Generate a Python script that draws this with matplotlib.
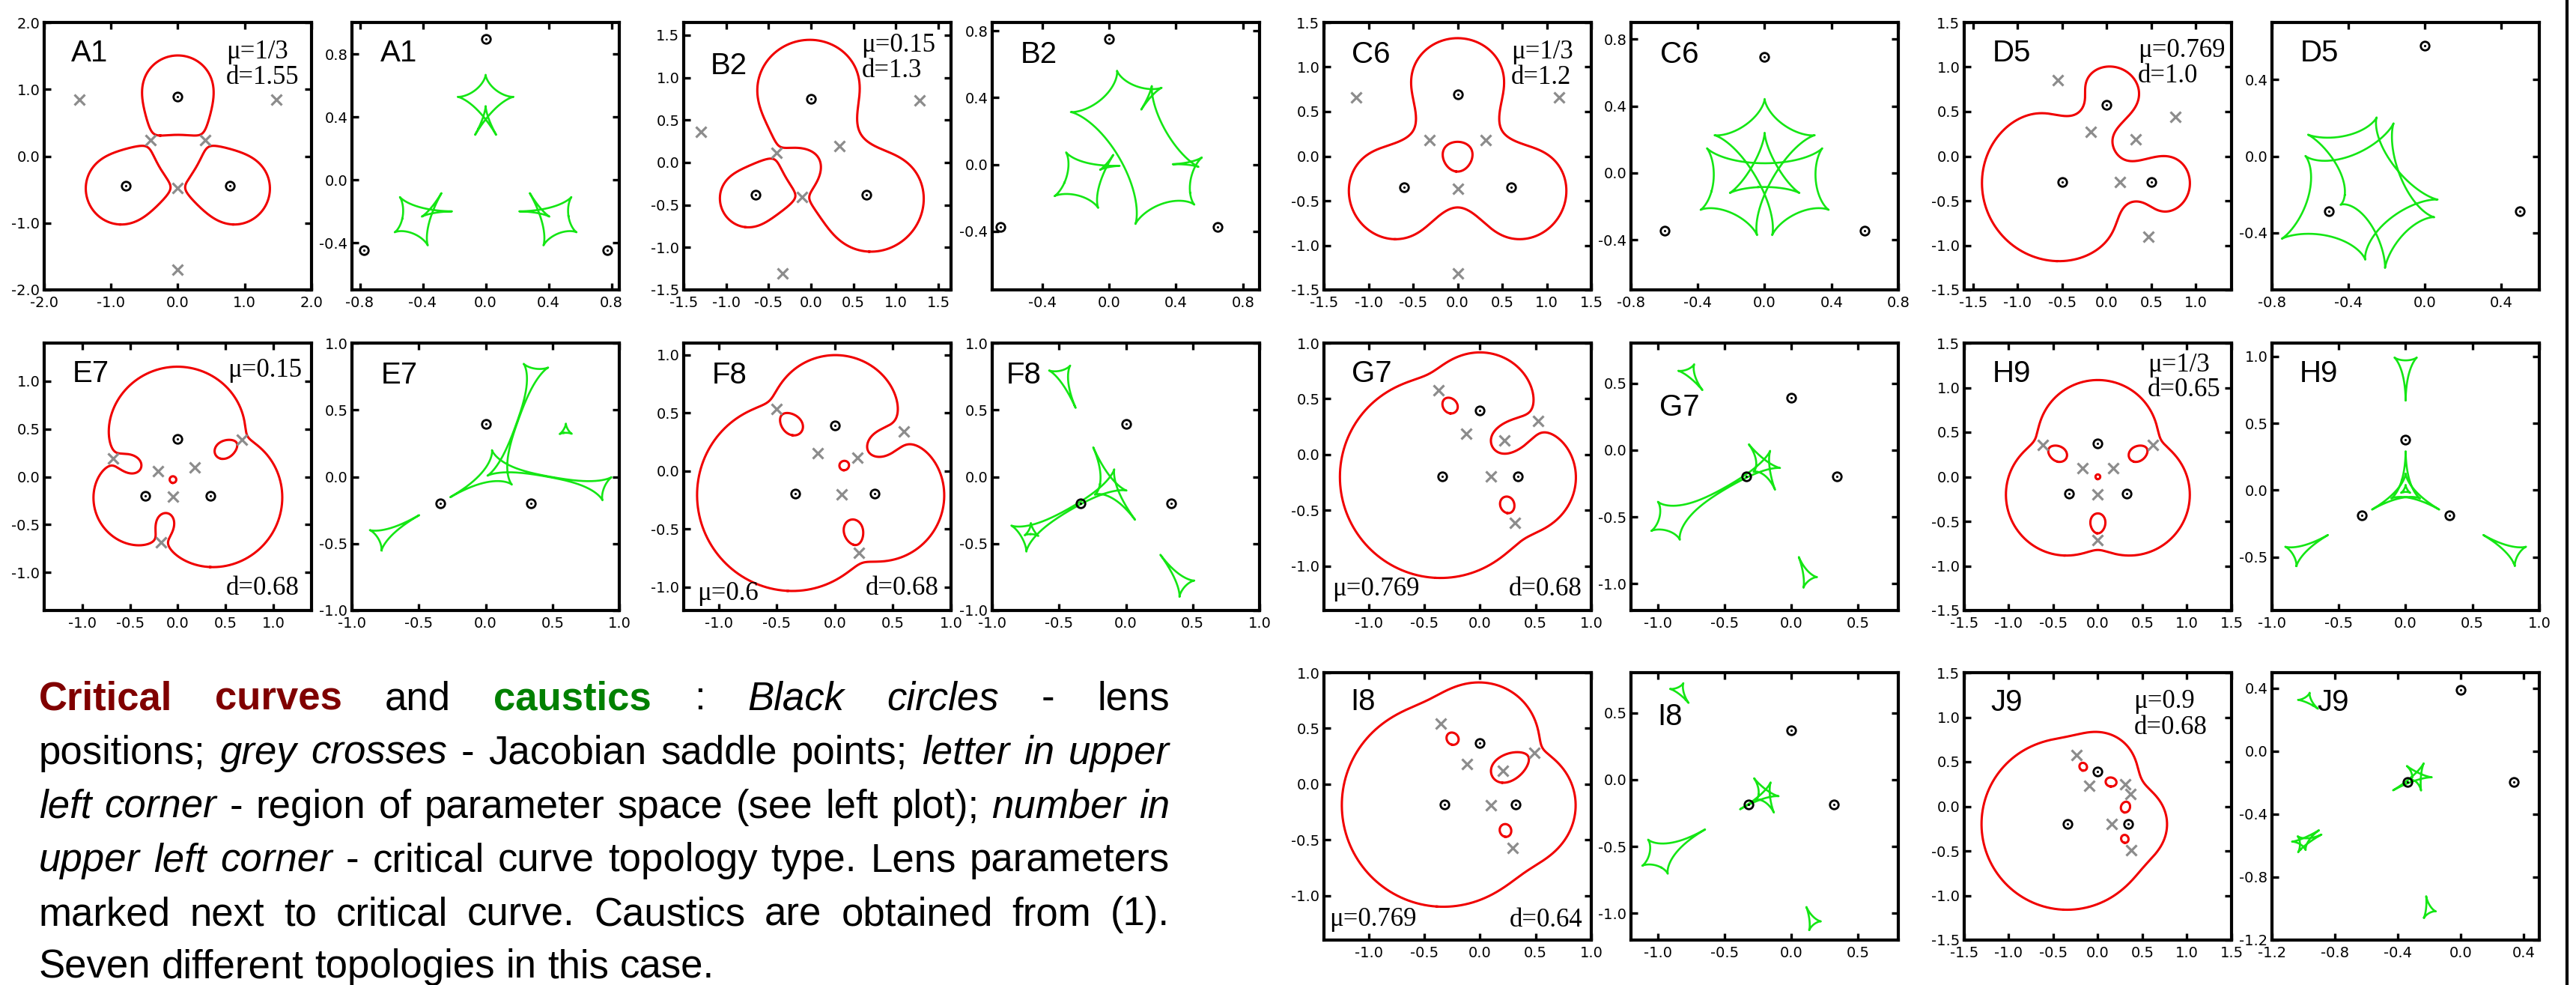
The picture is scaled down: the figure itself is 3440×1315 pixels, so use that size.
import numpy as np
import matplotlib
matplotlib.use("Agg")
import matplotlib.pyplot as plt
from matplotlib.lines import Line2D
import contourpy

# ---------------- data ----------------
panel_labels = ["A1", "B2", "C6", "D5", "E7", "F8", "G7", "H9", "I8", "J9"]
mu_values = [1/3, 0.15, 1/3, 0.769, 0.15, 0.6, 0.769, 1/3, 0.769, 0.9]
mu_labels = ["1/3", "0.15", "1/3", "0.769", "0.15", "0.6", "0.769", "1/3", "0.769", "0.9"]
d_values = [1.55, 1.3, 1.2, 1.0, 0.68, 0.68, 0.68, 0.65, 0.64, 0.68]
d_labels = ["1.55", "1.3", "1.2", "1.0", "0.68", "0.68", "0.68", "0.65", "0.64", "0.68"]

t15 = [-1.5, -1.0, -0.5, 0.0, 0.5, 1.0, 1.5]
t10 = [-1.0, -0.5, 0.0, 0.5, 1.0]
crit_xticks = [[-2.0, -1.0, 0.0, 1.0, 2.0], t15, t15, [-1.5, -1.0, -0.5, 0.0, 0.5, 1.0],
               t10, t10, t10, t15, t10, t15]
crit_yticks = [[-2.0, -1.0, 0.0, 1.0, 2.0], t15, t15, t15,
               t10, t10, t10, t15, t10, t15]
caus_xticks = [[-0.8, -0.4, 0.0, 0.4, 0.8], [-0.4, 0.0, 0.4, 0.8], [-0.8, -0.4, 0.0, 0.4, 0.8],
               [-0.8, -0.4, 0.0, 0.4], t10, t10, [-1.0, -0.5, 0.0, 0.5], t10,
               [-1.0, -0.5, 0.0, 0.5], [-1.2, -0.8, -0.4, 0.0, 0.4]]
caus_yticks = [[-0.4, 0.0, 0.4, 0.8], [-0.4, 0.0, 0.4, 0.8], [-0.4, 0.0, 0.4, 0.8],
               [-0.4, 0.0, 0.4], t10, t10, [-1.0, -0.5, 0.0, 0.5], [-0.5, 0.0, 0.5, 1.0],
               [-1.0, -0.5, 0.0, 0.5], [-1.2, -0.8, -0.4, 0.0, 0.4]]

paragraph = [
    [("Critical curves", "bold", "#800000"), ("and", "normal", "black"),
     ("caustics", "bold", "#008000"), (":", "normal", "black"),
     ("Black circles", "italic", "black"), ("- lens", "normal", "black")],
    [("positions;", "normal", "black"), ("grey crosses", "italic", "black"),
     ("- Jacobian saddle points;", "normal", "black"), ("letter in upper", "italic", "black")],
    [("left corner", "italic", "black"),
     ("- region of parameter space (see left plot);", "normal", "black"),
     ("number in", "italic", "black")],
    [("upper left corner", "italic", "black"),
     ("- critical curve topology type. Lens parameters", "normal", "black")],
    [("marked next to critical curve. Caustics are obtained from (1).", "normal", "black")],
    [("Seven different topologies in this case.", "normal", "black")],
]

# ---------------- layout / style ----------------
W, H, DPI = 3441, 1315, 100
plt.rcParams["axes.unicode_minus"] = False
plt.rcParams["font.family"] = ["DejaVu Sans"]

col_x = [59, 470, 913, 1325, 1768, 2178, 2623, 3034]
row_top = [30, 458, 898]
PW = PH = 357
grid_pos = [(0, 0), (0, 2), (0, 4), (0, 6), (1, 0), (1, 2), (1, 4), (1, 6), (2, 4), (2, 6)]

crit_lims = [((-2, 2), (-2, 2)), ((-1.5, 1.65), (-1.5, 1.65)), ((-1.5, 1.5), (-1.5, 1.5)),
             ((-1.6, 1.4), (-1.5, 1.5)), ((-1.4, 1.4), (-1.4, 1.4)), ((-1.3, 1.0), (-1.2, 1.1)),
             ((-1.4, 1.0), (-1.4, 1.0)), ((-1.5, 1.5), (-1.5, 1.5)), ((-1.4, 1.0), (-1.4, 1.0)),
             ((-1.5, 1.5), (-1.5, 1.5))]
caus_lims = [((-0.85, 0.85), (-0.7, 1.0)), ((-0.7, 0.9), (-0.75, 0.85)), ((-0.8, 0.8), (-0.7, 0.9)),
             ((-0.8, 0.6), (-0.7, 0.7)), ((-1, 1), (-1, 1)), ((-1, 1), (-1, 1)),
             ((-1.2, 0.8), (-1.2, 0.8)), ((-1, 1), (-0.9, 1.1)), ((-1.2, 0.8), (-1.2, 0.8)),
             ((-1.2, 0.5), (-1.2, 0.5))]
# letter label positions: (x fraction, pixels below top)
crit_letter_pos = [(0.10, 22), (0.10, 39), (0.104, 24), (0.107, 22), (0.107, 22),
                   (0.105, 24), (0.104, 22), (0.107, 22), (0.10, 20), (0.10, 21)]
caus_letter_pos = [(0.106, 22), (0.107, 24), (0.11, 24), (0.107, 22), (0.109, 24),
                   (0.053, 24), (0.106, 67), (0.104, 22), (0.10, 40), (0.17, 21)]
mu_pos = [(0.68, 0.866), (0.665, 0.89), (0.70, 0.866), (0.65, 0.87), (0.686, 0.874),
          (0.05, 0.04), (0.03, 0.055), (0.686, 0.894), (0.02, 0.053), (0.634, 0.867)]
d_pos = [(0.68, 0.770), (0.665, 0.796), (0.70, 0.77), (0.65, 0.775), (0.68, 0.06),
         (0.68, 0.06), (0.69, 0.055), (0.686, 0.80), (0.695, 0.05), (0.634, 0.77)]

RED = "#f00000"
GREEN = "#14e614"
GREY = "#8c8c8c"


def lens_config(mu, d):
    h = d / np.sqrt(3.0)
    z = np.array([1j * h, -d / 2 - 0.5j * h, d / 2 - 0.5j * h])
    m = np.array([(1 - mu) / 2, mu, (1 - mu) / 2])
    return z, m


def critical_curves(z, m, xlim, ylim, step=0.002):
    pad = 0.15
    xs = np.arange(xlim[0] - pad, xlim[1] + pad, step) + step * 0.31
    ys = np.arange(ylim[0] - pad, ylim[1] + pad, step) + step * 0.37
    X, Y = np.meshgrid(xs, ys)
    Z = X + 1j * Y
    g = np.zeros_like(Z)
    for zi, mi in zip(z, m):
        t = Z - zi
        t *= t
        g += mi / t
    F = np.clip(np.log(np.abs(g) + 1e-300), -20, 20)
    gen = contourpy.contour_generator(X, Y, F, line_type=contourpy.LineType.Separate)
    return gen.lines(0.0)


def lens_map(zc, z, m):
    w = zc.copy()
    for zi, mi in zip(z, m):
        w = w - mi / np.conj(zc - zi)
    return w


def saddle_points(z, m):
    P = np.zeros(7, dtype=complex)
    for i in range(3):
        others = [z[j] for j in range(3) if j != i]
        P = P + m[i] * np.poly(np.repeat(others, 3))
    return np.roots(P)


def style_axes(ax, lims, xt, yt):
    ax.set_xlim(lims[0])
    ax.set_ylim(lims[1])
    ax.set_xticks(xt)
    ax.set_yticks(yt)
    ax.set_xticklabels([f"{v:.1f}" for v in xt])
    ax.set_yticklabels([f"{v:.1f}" for v in yt])
    ax.tick_params(direction="in", length=6.5, width=2.4, top=True, right=True,
                   labelsize=14, colors="black")
    ax.tick_params(axis="x", pad=6)
    ax.tick_params(axis="y", pad=4)
    for s in ax.spines.values():
        s.set_linewidth(3.0)


def add_ax(row, col):
    l = col_x[col]
    t = row_top[row]
    return fig.add_axes([l / W, 1 - (t + PH) / H, PW / W, PH / H])


def draw_lenses(ax, z):
    ax.plot(z.real, z.imag, "o", mfc="none", mec="black", ms=8.3, mew=2.0, zorder=5)
    ax.plot(z.real, z.imag, ".", color="black", ms=2.5, zorder=6)


fig = plt.figure(figsize=(W / DPI, H / DPI), dpi=DPI)

for k, lab in enumerate(panel_labels):
    z, m = lens_config(mu_values[k], d_values[k])
    row, col = grid_pos[k]
    axc = add_ax(row, col)
    axs = add_ax(row, col + 1)

    curves = critical_curves(z, m, *crit_lims[k])
    for seg in curves:
        zc = seg[:, 0] + 1j * seg[:, 1]
        axc.plot(seg[:, 0], seg[:, 1], color=RED, lw=2.2, zorder=2)
        w = lens_map(zc, z, m)
        axs.plot(w.real, w.imag, color=GREEN, lw=1.9, zorder=2)

    sp = saddle_points(z, m)
    axc.plot(sp.real, sp.imag, "x", color=GREY, ms=10, mew=2.3, zorder=3)
    draw_lenses(axc, z)
    draw_lenses(axs, z)

    style_axes(axc, crit_lims[k], crit_xticks[k], crit_yticks[k])
    style_axes(axs, caus_lims[k], caus_xticks[k], caus_yticks[k])

    for ax, (px, off) in ((axc, crit_letter_pos[k]), (axs, caus_letter_pos[k])):
        ax.text(px, 1 - off / PH, lab, transform=ax.transAxes, ha="left", va="top",
                fontsize=29, family=["Liberation Sans", "DejaVu Sans"])

    axc.text(mu_pos[k][0], mu_pos[k][1], "\u03bc=" + mu_labels[k], transform=axc.transAxes,
             ha="left", va="baseline", fontsize=25, family=["Liberation Serif", "DejaVu Serif"])
    axc.text(d_pos[k][0], d_pos[k][1], "d=" + d_labels[k], transform=axc.transAxes,
             ha="left", va="baseline", fontsize=25, family=["Liberation Serif", "DejaVu Serif"])

# right border line
fig.add_artist(Line2D([3428 / W, 3428 / W], [0, 1], transform=fig.transFigure,
                      color="black", lw=3.0))

# ---------------- justified paragraph ----------------
renderer = fig.canvas.get_renderer()
PFS = 38
para_left, para_right = 52, 1562
baselines = [947, 1020, 1092, 1163, 1235, 1305]


def make_word(word, style, color):
    kw = dict(fontsize=PFS, color=color, family=["Liberation Sans", "DejaVu Sans"],
              va="baseline", ha="left", transform=fig.transFigure)
    if style == "bold":
        kw["fontweight"] = "bold"
    elif style == "italic":
        kw["fontstyle"] = "italic"
    return fig.text(0, 0, word, **kw)


probe1 = make_word("x x", "normal", "black")
probe2 = make_word("xx", "normal", "black")
space_w = (probe1.get_window_extent(renderer).width - probe2.get_window_extent(renderer).width)
probe1.remove()
probe2.remove()

for li, line in enumerate(paragraph):
    words = [(w, st, c) for (txt, st, c) in line for w in txt.split()]
    objs = [make_word(w, st, c) for (w, st, c) in words]
    widths = [o.get_window_extent(renderer).width for o in objs]
    if li < len(paragraph) - 1 and len(objs) > 1:
        gap = (para_right - para_left - sum(widths)) / (len(objs) - 1)
    else:
        gap = space_w
    x = para_left
    yb = 1 - baselines[li] / H
    for o, wdt in zip(objs, widths):
        o.set_position((x / W, yb))
        x += wdt + gap

fig.savefig("out.png", dpi=DPI)
